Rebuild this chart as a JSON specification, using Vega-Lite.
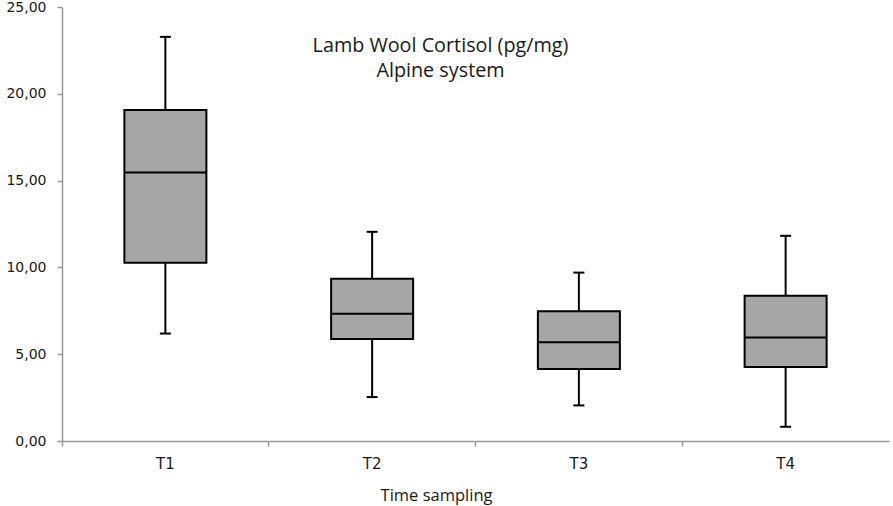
{
  "$schema": "https://vega.github.io/schema/vega-lite/v6.json",
  "width": 827,
  "height": 434,
  "autosize": {"type": "none"},
  "padding": {"left": 62, "top": 7, "right": 4, "bottom": 65},
  "background": "white",
  "title": {
    "text": ["Lamb Wool Cortisol (pg/mg)", "Alpine system"],
    "font": "Open Sans",
    "fontSize": 19.8,
    "fontWeight": "normal",
    "color": "#1a1a1a",
    "lineHeight": 25,
    "anchor": "middle",
    "frame": "group",
    "baseline": "alphabetic",
    "offset": 0,
    "dx": -35,
    "dy": 97
  },
  "data": {
    "values": [
      {"time": "T1", "min": 6.19, "q1": 10.27, "median": 15.46, "q3": 19.07, "max": 23.28},
      {"time": "T2", "min": 2.53, "q1": 5.87, "median": 7.33, "q3": 9.34, "max": 12.05},
      {"time": "T3", "min": 2.05, "q1": 4.15, "median": 5.69, "q3": 7.48, "max": 9.70},
      {"time": "T4", "min": 0.82, "q1": 4.26, "median": 5.96, "q3": 8.36, "max": 11.82}
    ]
  },
  "encoding": {
    "x": {
      "field": "time",
      "type": "nominal",
      "scale": {"paddingInner": 0, "paddingOuter": 0},
      "axis": {
        "title": "Time sampling",
        "titleFont": "Open Sans",
        "titleFontSize": 16.5,
        "titleFontWeight": "normal",
        "titleColor": "#1a1a1a",
        "titleX": 374,
        "titleY": 59,
        "titleBaseline": "alphabetic",
        "titleAlign": "center",
        "labelAngle": 0,
        "labelFont": "DejaVu Sans",
        "labelFontSize": 15,
        "labelColor": "#1a1a1a",
        "labelPadding": 10,
        "bandPosition": 0,
        "tickSize": 5,
        "tickColor": "#999999",
        "tickWidth": 1.5,
        "domainColor": "#999999",
        "domainWidth": 1.5,
        "grid": false
      }
    }
  },
  "layer": [
    {
      "mark": {"type": "rule", "color": "black", "strokeWidth": 2},
      "encoding": {
        "y": {
          "field": "min",
          "type": "quantitative",
          "scale": {"domain": [0, 25], "nice": false},
          "axis": {
            "title": null,
            "values": [0, 5, 10, 15, 20, 25],
            "labelExpr": "replace(format(datum.value, '.2f'), '.', ',')",
            "labelFont": "DejaVu Sans",
            "labelFontSize": 14,
            "labelColor": "#1a1a1a",
            "labelPadding": 11,
            "tickSize": 5,
            "tickColor": "#999999",
            "tickWidth": 1.5,
            "domainColor": "#999999",
            "domainWidth": 1.5,
            "grid": false
          }
        },
        "y2": {"field": "max"}
      }
    },
    {
      "mark": {"type": "bar", "size": 82, "fill": "#a6a6a6", "stroke": "black", "strokeWidth": 2},
      "encoding": {
        "y": {"field": "q1", "type": "quantitative"},
        "y2": {"field": "q3"}
      }
    },
    {
      "mark": {"type": "tick", "size": 82, "thickness": 2, "color": "black", "opacity": 1},
      "encoding": {
        "y": {"field": "median", "type": "quantitative"}
      }
    },
    {
      "mark": {"type": "tick", "size": 11, "thickness": 2, "color": "black", "opacity": 1},
      "encoding": {
        "y": {"field": "min", "type": "quantitative"}
      }
    },
    {
      "mark": {"type": "tick", "size": 11, "thickness": 2, "color": "black", "opacity": 1},
      "encoding": {
        "y": {"field": "max", "type": "quantitative"}
      }
    }
  ],
  "config": {"view": {"stroke": null}}
}
